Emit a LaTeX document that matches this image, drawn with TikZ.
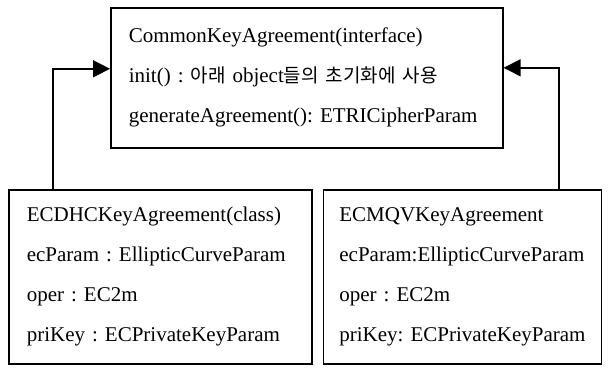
\documentclass[tikz,border=0pt]{standalone}
\usepackage{fontspec}
\setmainfont{Liberation Serif}
\newfontfamily\krfont{Noto Sans CJK KR}
\frenchspacing
\usetikzlibrary{arrows.meta, positioning}

\begin{document}
\begin{tikzpicture}[x=1pt, y=-1pt, node distance=10pt,
        umlbox/.style={draw, rectangle, line width=1.6pt, align=left, inner ysep=0pt,
            inner xsep=18pt, font=\fontsize{21}{40}\selectfont},
        inherit/.style={line width=1.5pt, -{Triangle[length=17pt, width=17pt]}}]
        \useasboundingbox (0,0) rectangle (608,370);

        % Interface
        \node (common) [umlbox, anchor=north west, text width=356pt, minimum height=140pt] at (110,7)
            {CommonKeyAgreement(interface)\\
             init() : {\krfont\fontsize{19}{40}\selectfont 아래} object{\krfont\fontsize{19}{40}\selectfont 들의 초기화에 사용}\\
             generateAgreement(): ETRICipherParam};

        % Classes
        \node (ecdh) [umlbox, anchor=north west, text width=267pt, minimum height=174pt] at (8,189)
            {ECDHCKeyAgreement(class)\\
             ecParam : EllipticCurveParam\\
             oper : EC2m\\
             priKey : ECPrivateKeyParam};
        \node (ecmqv) [umlbox, inner xsep=16pt, text width=246pt, minimum height=174pt, right=of ecdh]
            {ECMQVKeyAgreement\\
             \mbox{ecParam:EllipticCurveParam}\\
             oper : EC2m\\
             \mbox{priKey: ECPrivateKeyParam}};

        % Arrows
        \draw[inherit] ([xshift=45pt]ecdh.north west) |- ([yshift=9pt]common.west);
        \draw[inherit] ([xshift=-43pt]ecmqv.north east) |- ([yshift=10pt]common.east);
\end{tikzpicture}
\end{document}
